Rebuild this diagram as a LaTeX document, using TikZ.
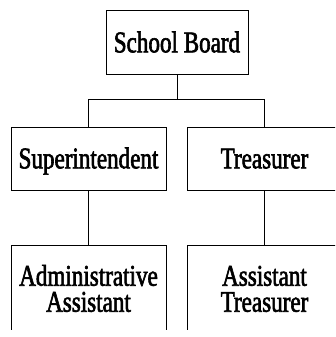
\documentclass[tikz,border=0pt]{standalone}
\usepackage{fontspec}
\setmainfont{Liberation Serif}[FakeStretch=0.77,FakeBold=2]
\begin{document}
\begin{tikzpicture}[x=1pt,y=1pt,
  orgbox/.style={draw=black, line width=1pt, rectangle, inner sep=0pt,
    minimum width=155pt, minimum height=63pt, align=center,
    font=\fontsize{30}{26}\selectfont, text height=19.6pt, text depth=0pt},
  tallbox/.style={orgbox, minimum height=90pt, text height=45.6pt, text depth=2.2pt},
  link/.style={draw=black, line width=1pt}]
  \useasboundingbox (0,0) rectangle (335,-337);
  \begin{scope}
    \clip (0,0) rectangle (335,-329);
    % top level
    \node[orgbox, minimum width=142pt] (board) at (177,-42.5) {School Board};
    % second level
    \node[orgbox] (sup) at (88.5,-158.5) {Superintendent};
    \node[orgbox] (tre) at (264.5,-158.5) {Treasurer};
    % third level
    \node[tallbox] (adm) at (88.5,-290) {Administrative\\Assistant};
    \node[tallbox] (ast) at (264.5,-290) {Assistant\\Treasurer};
    % connectors
    \draw[link] (board.south) -- ++(0,-25) coordinate (split) -| (sup.north);
    \draw[link] (split) -| (tre.north);
    \draw[link] (sup.south) -- (adm.north);
    \draw[link] (tre.south) -- (ast.north);
  \end{scope}
\end{tikzpicture}
\end{document}
